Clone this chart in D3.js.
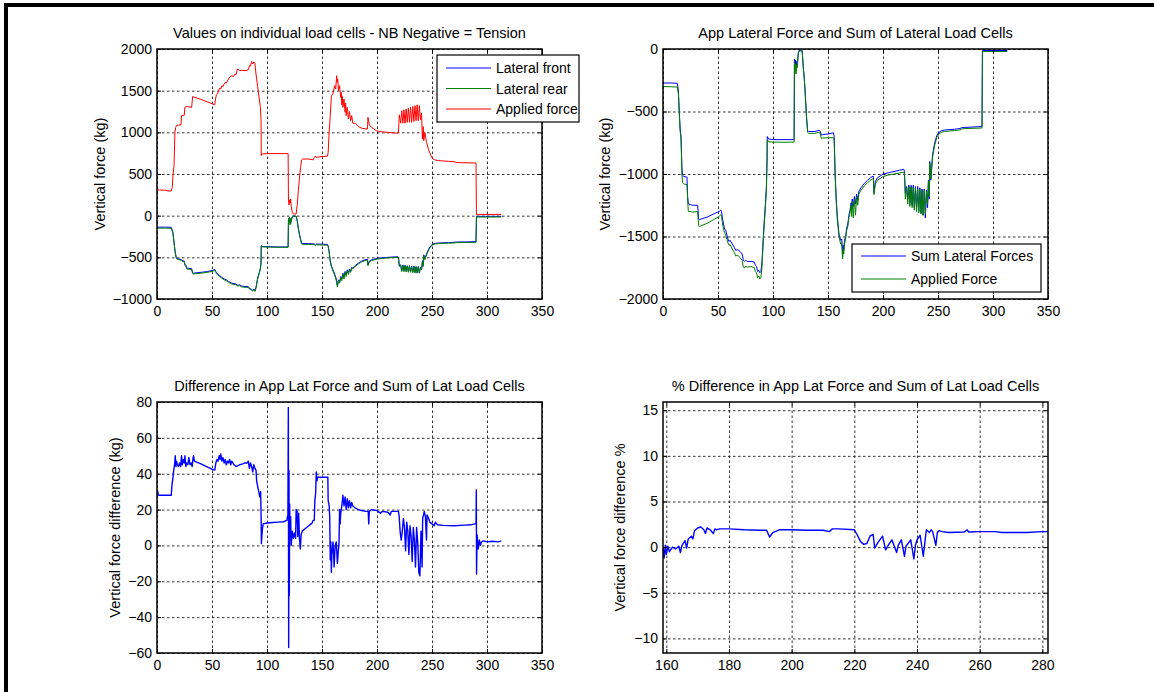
<!DOCTYPE html>
<html>
<head>
<meta charset="utf-8">
<script src="https://cdn.jsdelivr.net/npm/d3@7"></script>
<style>
  body { margin: 0; background: #fff; }
  svg { display: block; font-family: "Liberation Sans", Arial, sans-serif; }
  .grid line { stroke: #000; stroke-dasharray: 2.5,2.5; stroke-width: 0.8; }
  .grid path { display: none; }
  .tick text { font-size: 14px; fill: #000; }
</style>
</head>
<body>
<div id="chart"></div>
<script>
// 荷重セル各値 [時間(s), 力(kg)]
const lateralFront = [[0,-138],[8,-138],[13,-140],[14.5,-200],[15.5,-320],[16.5,-430],[17.5,-500],[18.5,-515],[20,-520],[22,-525],[23,-540],[24.8,-545],[25.3,-580],[26.5,-600],[27,-630],[31.5,-635],[32.4,-685],[33,-690],[40,-680],[46,-670],[51,-655],[52.5,-645],[53.2,-665],[54,-680],[55,-700],[57,-720],[59,-740],[61,-760],[63,-770],[65,-790],[68,-810],[70,-815],[72,-820],[73,-835],[75,-830],[77,-845],[80,-850],[83,-850],[84,-870],[86,-885],[87,-895],[88,-880],[89,-900],[90,-860],[91.5,-750],[93,-680],[94,-630],[94.6,-560],[94.8,-360],[96,-370],[110,-375],[119.2,-375],[119.5,-60],[120,-30],[120.5,-80],[121,-40],[121.5,-100],[122,-50],[123,-15],[124,-5],[126.5,-8],[127.5,-60],[128.5,-150],[129.5,-220],[130.5,-280],[131.5,-330],[132.5,-335],[138,-335],[143,-340],[144,-350],[145,-340],[150,-342],[155,-345],[155.6,-360],[156.5,-430],[157.5,-540],[158.5,-600],[160,-650],[161.5,-700],[163,-760],[164,-840],[165,-770],[166,-800],[167,-730],[168,-760],[169,-690],[170,-740],[171,-670],[172,-710],[173,-650],[174,-690],[175,-640],[176,-670],[177,-620],[178,-630],[180,-600],[183,-570],[186,-545],[190,-525],[191.3,-525],[191.8,-590],[193,-545],[195,-530],[200,-512],[205,-505],[210,-500],[215,-495],[219,-493],[219.5,-500],[220.3,-600],[221.5,-590],[222.5,-660],[223.5,-590],[224.5,-660],[225.5,-595],[226.5,-665],[227.5,-600],[228.5,-670],[229.5,-600],[230.5,-670],[231.5,-605],[232.5,-675],[233.5,-605],[234.5,-680],[235.5,-610],[236.5,-685],[237.5,-610],[238.5,-690],[239.5,-620],[240.5,-640],[241.3,-540],[242,-600],[242.5,-470],[243.5,-520],[245,-460],[247,-400],[249,-360],[251,-340],[253,-332],[256,-328],[265,-323],[270,-320],[272,-316],[280,-315],[290,-312],[290.4,-5],[291,-8],[300,-8],[313,-8]];

const lateralRear = [[0,-150],[8,-150],[13,-152],[14.5,-210],[15.5,-330],[16.5,-445],[17.5,-510],[18.5,-525],[20,-530],[22,-535],[23,-550],[24.8,-555],[25.3,-595],[26.5,-615],[27,-640],[31.5,-645],[32.4,-695],[33,-700],[40,-690],[46,-680],[51,-665],[52.5,-655],[53.2,-675],[54,-690],[55,-710],[57,-730],[59,-750],[61,-770],[63,-780],[65,-800],[68,-820],[70,-825],[72,-830],[73,-845],[75,-840],[77,-855],[80,-860],[83,-860],[84,-880],[86,-895],[87,-905],[88,-890],[89,-910],[90,-870],[91.5,-760],[93,-690],[94,-640],[94.6,-570],[94.8,-368],[96,-375],[110,-380],[119.2,-380],[119.5,-40],[120,-90],[120.5,-20],[121,-110],[121.5,-30],[122,-70],[123,-10],[124,-3],[126.5,-5],[127.5,-70],[128.5,-160],[129.5,-230],[130.5,-290],[131.5,-340],[132.5,-345],[138,-345],[143,-348],[144,-360],[145,-350],[150,-352],[155,-355],[155.6,-370],[156.5,-440],[157.5,-555],[158.5,-610],[160,-665],[161.5,-715],[163,-780],[164,-855],[165,-780],[166,-810],[167,-740],[168,-780],[169,-700],[170,-760],[171,-680],[172,-730],[173,-660],[174,-705],[175,-650],[176,-680],[177,-630],[178,-640],[180,-610],[183,-580],[186,-555],[190,-535],[191.3,-535],[191.8,-600],[193,-555],[195,-540],[200,-522],[205,-512],[210,-507],[215,-502],[219,-500],[219.5,-505],[220.3,-610],[221.5,-595],[222.5,-670],[223.5,-595],[224.5,-672],[225.5,-600],[226.5,-675],[227.5,-605],[228.5,-680],[229.5,-605],[230.5,-680],[231.5,-610],[232.5,-685],[233.5,-610],[234.5,-688],[235.5,-615],[236.5,-690],[237.5,-615],[238.5,-680],[239.5,-625],[240.5,-650],[241.3,-550],[242,-610],[242.5,-480],[243.5,-530],[245,-470],[247,-410],[249,-368],[251,-348],[253,-340],[256,-335],[265,-330],[270,-328],[272,-324],[280,-322],[290,-320],[290.4,-15],[291,-16],[300,-16],[313,-16]];

const appliedForce = [[0,310],[2,308],[8,305],[10,296],[13,296],[14,350],[14.5,480],[15.5,600],[16.3,1000],[17,1060],[18,1085],[21.8,1090],[22.3,1200],[24.8,1205],[25.3,1300],[26.6,1310],[31.5,1300],[32.4,1430],[33,1425],[40,1395],[46,1365],[52.5,1330],[53.2,1400],[54,1450],[55,1460],[56,1500],[57,1530],[58,1520],[59,1560],[60,1550],[61,1580],[62,1600],[63,1590],[65,1640],[66,1660],[68,1680],[69.5,1670],[71,1700],[72,1695],[73,1760],[74,1755],[75,1740],[77,1745],[80,1740],[83,1750],[84,1800],[85,1795],[86,1850],[87,1820],[88,1845],[89,1830],[90,1700],[91.5,1550],[93,1400],[94,1300],[94.6,1150],[94.8,720],[95.2,740],[100,745],[110,745],[119.2,745],[119.5,200],[120,130],[120.5,190],[121,150],[121.5,200],[122,110],[123,40],[124,20],[126.5,20],[127.5,130],[128.5,300],[129.5,450],[130.5,580],[131.5,670],[132.5,680],[138,680],[142,670],[143,700],[144,715],[144.5,700],[150,710],[155,715],[155.6,760],[156.5,1000],[157.5,1200],[158.5,1430],[160,1470],[161.5,1560],[162.5,1520],[163.3,1680],[163.8,1600],[164.3,1640],[165,1500],[166,1560],[167,1420],[167.5,1480],[168,1330],[168.5,1430],[169,1300],[170,1400],[171,1240],[171.5,1350],[172,1200],[173,1300],[174,1160],[175,1250],[176,1140],[177,1200],[178,1110],[180,1110],[183,1070],[186,1050],[190,1040],[191.3,1040],[191.8,1180],[193,1090],[195,1060],[200,1015],[205,1005],[210,1000],[215,993],[219,990],[219.5,1000],[220.3,1210],[221.5,1110],[222.5,1260],[223.5,1110],[224.5,1270],[225.5,1110],[226.5,1280],[227.5,1120],[228.5,1290],[229.5,1120],[230.5,1300],[231.5,1120],[232.5,1310],[233.5,1130],[234.5,1320],[235.5,1140],[236.5,1330],[237.5,1140],[238.5,1320],[239.5,1150],[240.5,1230],[241.3,920],[242,1070],[242.5,900],[243.5,1000],[245,880],[247,790],[249,720],[251,680],[253,668],[256,660],[265,652],[270,648],[272,638],[280,635],[290,632],[290.4,12],[291,15],[300,15],[313,15]];

// 横方向合計と負荷力
const sumLateral = [[0,-272],[8,-272],[13,-275],[14,-330],[14.8,-500],[15.6,-640],[16.4,-700],[17.2,-950],[17.8,-1010],[19,-1020],[21.8,-1025],[22.4,-1180],[23,-1240],[25.3,-1245],[26.6,-1250],[31.5,-1250],[32.4,-1360],[33,-1365],[40,-1345],[46,-1320],[51,-1300],[52.5,-1288],[53.2,-1300],[54,-1350],[55,-1400],[56,-1440],[57,-1450],[59,-1520],[60,-1540],[61,-1530],[63,-1560],[65,-1590],[66,-1610],[68,-1605],[70,-1620],[72,-1640],[73,-1690],[74,-1700],[75,-1690],[77,-1700],[80,-1700],[83,-1705],[84,-1730],[85,-1740],[86,-1780],[87,-1770],[88,-1790],[89,-1780],[90,-1700],[91.5,-1450],[93,-1250],[94,-1100],[94.6,-870],[94.8,-700],[96,-720],[100,-725],[110,-725],[119.2,-725],[119.5,-80],[120,-120],[120.5,-90],[121,-130],[121.5,-100],[122,-140],[123,-30],[124,-8],[126.5,-10],[127.5,-140],[128.5,-240],[129.5,-380],[130.5,-540],[131.5,-655],[132.5,-660],[138,-660],[142,-650],[143,-660],[144,-690],[145,-685],[150,-680],[155,-670],[155.6,-700],[156.5,-1000],[157.5,-1200],[158.5,-1340],[160,-1480],[161.5,-1530],[162.5,-1520],[163.3,-1650],[163.8,-1570],[164.3,-1610],[165,-1530],[166,-1500],[167,-1430],[168,-1400],[169,-1330],[170,-1290],[171,-1230],[171.5,-1280],[172,-1200],[173,-1260],[174,-1180],[175,-1240],[176,-1160],[177,-1210],[178,-1140],[180,-1110],[183,-1075],[186,-1050],[190,-1020],[191.3,-1020],[191.8,-1150],[193,-1060],[195,-1030],[200,-1000],[205,-990],[210,-980],[215,-970],[219,-962],[219.5,-980],[220.3,-1150],[221.5,-1100],[222.5,-1200],[223.5,-1090],[224.5,-1230],[225.5,-1090],[226.5,-1250],[227.5,-1090],[228.5,-1270],[229.5,-1100],[230.5,-1280],[231.5,-1100],[232.5,-1300],[233.5,-1110],[234.5,-1310],[235.5,-1120],[236.5,-1330],[237.5,-1120],[238.5,-1350],[239.5,-1130],[240.5,-1270],[241.3,-1050],[242,-1200],[242.5,-900],[243.5,-1050],[245,-850],[247,-750],[249,-690],[251,-665],[253,-655],[256,-648],[265,-642],[270,-636],[272,-628],[280,-625],[290,-620],[290.4,-10],[291,-12],[300,-12],[313,-12]];

const appliedNeg = [[0,-300],[8,-302],[13,-305],[14,-360],[14.8,-520],[15.6,-660],[16.4,-720],[17.2,-1000],[17.8,-1070],[19,-1080],[21.8,-1085],[22.4,-1200],[23,-1300],[25.3,-1300],[26.6,-1305],[31.5,-1300],[32.4,-1415],[33,-1420],[40,-1395],[46,-1365],[51,-1340],[52.5,-1325],[53.2,-1340],[54,-1390],[55,-1440],[56,-1470],[57,-1490],[59,-1550],[60,-1570],[61,-1565],[63,-1600],[65,-1630],[66,-1655],[68,-1650],[70,-1670],[72,-1690],[73,-1745],[74,-1752],[75,-1740],[77,-1745],[80,-1740],[83,-1750],[84,-1780],[85,-1790],[86,-1830],[87,-1815],[88,-1840],[89,-1830],[90,-1740],[91.5,-1480],[93,-1280],[94,-1130],[94.6,-900],[94.8,-725],[96,-742],[100,-745],[110,-746],[119.2,-745],[119.5,-100],[120,-190],[120.5,-120],[121,-200],[121.5,-130],[122,-150],[123,-35],[124,-15],[126.5,-18],[127.5,-150],[128.5,-250],[129.5,-400],[130.5,-560],[131.5,-668],[132.5,-675],[138,-675],[142,-665],[143,-680],[144,-718],[145,-712],[150,-710],[155,-710],[155.6,-730],[156.5,-1020],[157.5,-1230],[158.5,-1370],[160,-1500],[161.5,-1560],[162.5,-1550],[163.3,-1680],[163.8,-1600],[164.3,-1640],[165,-1560],[166,-1520],[167,-1450],[168,-1420],[169,-1350],[170,-1310],[171,-1250],[171.5,-1340],[172,-1220],[173,-1350],[174,-1200],[175,-1330],[176,-1180],[177,-1250],[178,-1160],[180,-1130],[183,-1095],[186,-1070],[190,-1040],[191.3,-1040],[191.8,-1165],[193,-1080],[195,-1050],[200,-1020],[205,-1008],[210,-1000],[215,-992],[219,-985],[219.5,-1000],[220.3,-1200],[221.5,-1110],[222.5,-1240],[223.5,-1100],[224.5,-1260],[225.5,-1100],[226.5,-1270],[227.5,-1110],[228.5,-1290],[229.5,-1110],[230.5,-1300],[231.5,-1120],[232.5,-1310],[233.5,-1120],[234.5,-1320],[235.5,-1130],[236.5,-1330],[237.5,-1130],[238.5,-1320],[239.5,-1140],[240.5,-1240],[241.3,-1060],[242,-1180],[242.5,-910],[243.5,-1040],[245,-870],[247,-770],[249,-705],[251,-678],[253,-667],[256,-660],[265,-652],[270,-648],[272,-638],[280,-635],[290,-632],[290.4,-20],[291,-20],[300,-20],[313,-20]];

// 差 (kg)
const forceDiff = [[0,29],[0.5,30.5],[1,29],[1.5,28],[6,28],[13,28],[13.5,33],[14.5,38],[15.2,42],[16,45],[16.6,50],[17.2,44],[17.8,47],[18.5,45],[19.5,44],[20.5,46],[21.5,44],[22.3,50],[23,45],[24,48],[24.8,46],[25.4,50],[26.2,44],[27,46],[28,45],[29,49],[30,45],[31,46],[32,44],[32.6,48],[33.2,50],[34,47],[36,46.5],[40,45.5],[45,44],[50,42.5],[52.5,42],[53.5,46],[54.5,48],[55.5,47],[56.5,50],[57.3,48],[58,51],[59,47],[60,49],[61,46],[62,48],[63,45],[64,47],[65,46],[66,48],[67,45],[68,47],[70,45],[72,44],[75,45],[78,45.5],[80,46],[82,46],[83,47],[84,43],[85,46],[86,44],[87,41],[88,45],[89,43],[90,42],[90.6,36],[91.5,33],[92.5,30],[93.5,27],[94.2,30],[94.6,18],[94.9,1],[95.3,5],[95.8,9],[96.5,12],[100,12.5],[105,12.8],[110,13],[115,13.2],[118,14],[119,17],[119.4,77],[119.7,-57],[120,42],[120.3,-28],[120.6,23],[121,5],[121.5,16],[122,0],[123,8],[124,4],[125,7],[126,4],[126.5,20],[127.3,19],[128,5],[128.8,18],[129.5,4],[130.3,-2],[131,6],[132,8],[134,9],[136,10],[138,11],[140,12],[141,12.5],[142,14],[143,14],[143.5,25],[144.2,29],[144.8,41],[145.4,36],[146,38],[150,38],[155.3,38],[155.6,25],[156.5,22],[157,16],[157.5,-8],[158,2],[158.5,-15],[159,-5],[160,2],[160.5,-3],[161,-12],[162,0],[163,2],[164,-10],[165,-2],[165.5,2],[166,20],[166.5,12],[167,18],[168,22],[169,28],[170,22],[171,27],[172,20],[173,26],[174,21],[175,25],[176,21],[177,24],[178,22],[180,21],[183,20],[186,19.5],[190,19],[192,19],[192.5,12],[193,19],[195,20],[200,19.5],[203,18],[205,19],[210,18.5],[212,17],[213,19],[218,19],[219.5,19],[220.2,16],[221,8],[222,3],[223,8],[224,15],[225,10],[226,-3],[227,13],[228,8],[229,-5],[230,11],[231,5],[232,-9],[233,10],[234,3],[235,-12],[236,10],[237,2],[238,-15],[239,-17],[240,8],[241,-12],[241.5,15],[243,19],[244,16],[245,3],[245.5,17],[247,15],[248,13],[250,12],[252,11],[253,13],[255,11.5],[260,11.2],[270,11],[280,11.3],[285,11.5],[289,12],[290,12],[290.3,31],[290.5,-16],[291,6],[292,-2],[293,3],[294,0],[295,2],[297,2.5],[300,2],[305,2.3],[310,2],[313,2.5]];

// 差 (%)
const percentDiff = [[159,0],[159.3,-1.2],[159.7,0.2],[160,-0.8],[160.5,0.1],[161,-0.5],[162,0],[163,-0.2],[164,0.1],[164.5,-0.6],[165,0.2],[166,0.7],[166.5,-0.1],[167,0.9],[168,1.2],[168.5,0.9],[169,1.8],[170,2.1],[171,2.2],[172,1.9],[172.5,1.5],[173,2.1],[174,1.9],[175,1.5],[175.5,2.0],[176,1.9],[177,2.0],[180,2.0],[185,1.9],[190,1.85],[192,1.85],[193,1.1],[194,1.6],[196,1.9],[200,1.9],[205,1.85],[210,1.85],[212,1.7],[213,2.0],[215,2.0],[220,1.9],[221,1.3],[222,0.6],[223,0.3],[224,0.4],[225,1.2],[226,1.4],[226.5,-0.1],[227.5,0.5],[229,1.2],[230,-0.3],[231,0.3],[232,0.8],[233.5,-0.6],[234,0.2],[235,0.8],[236,-1.0],[236.5,0.1],[238,0.8],[239,-1.3],[239.5,0.2],[240,0.8],[241,1.3],[242,-1.0],[242.5,0.5],[243,1.9],[244,1.6],[244.5,1.9],[245,1.7],[246,0.2],[246.5,1.6],[247,1.8],[248,1.7],[250,1.6],[255,1.65],[256,1.9],[256.5,1.65],[260,1.7],[265,1.7],[267,1.6],[270,1.6],[275,1.6],[280,1.7],[281.8,1.7]];

// 目盛
const timeTicks = [0, 50, 100, 150, 200, 250, 300, 350];
const pctTimeTicks = [160, 180, 200, 220, 240, 260, 280];
const cellTicks = [-1000, -500, 0, 500, 1000, 1500, 2000];
const sumTicks = [-2000, -1500, -1000, -500, 0];
const diffTicks = [-60, -40, -20, 0, 20, 40, 60, 80];
const pctTicks = [-10, -5, 0, 5, 10, 15];

const svgWidth = 1154;
const svgHeight = 692;
const svg = d3.select('#chart')
  .append('svg')
  .attr('width', svgWidth)
  .attr('height', svgHeight);

svg.append('rect').attr('width', svgWidth).attr('height', svgHeight).attr('fill', '#fff');
// 外枠
svg.append('rect').attr('x', 4).attr('y', 3).attr('width', svgWidth - 4).attr('height', 4).attr('fill', '#000');
svg.append('rect').attr('x', 4).attr('y', 3).attr('width', 4).attr('height', svgHeight - 3).attr('fill', '#000');

let clipId = 0;

function panel(opt) {
  const width = opt.right - opt.left;
  const height = opt.bottom - opt.top;
  const g = svg.append('g').attr('transform', `translate(${opt.left},${opt.top})`);

  const xScale = d3.scaleLinear().domain(opt.xDomain).range([0, width]);
  const yScale = d3.scaleLinear().domain(opt.yDomain).range([height, 0]);

  // grid
  g.append('g').attr('class', 'grid')
    .attr('transform', `translate(0,${height})`)
    .call(d3.axisBottom(xScale).tickValues(opt.xTicks).tickSize(-height).tickFormat(''));
  g.append('g').attr('class', 'grid')
    .call(d3.axisLeft(yScale).tickValues(opt.yTicks).tickSize(-width).tickFormat(''));

  // lines
  const id = 'clip' + (clipId++);
  g.append('clipPath').attr('id', id)
    .append('rect').attr('width', width).attr('height', height);
  const line = d3.line().x(d => xScale(d[0])).y(d => yScale(d[1]));
  opt.series.forEach(s => {
    g.append('path')
      .datum(s.data)
      .attr('clip-path', `url(#${id})`)
      .attr('fill', 'none')
      .attr('stroke', s.color)
      .attr('stroke-width', s.width || 1)
      .attr('stroke-linejoin', 'round')
      .attr('d', line);
  });

  // axes (ticks inside)
  const ax = g.append('g').attr('transform', `translate(0,${height})`)
    .call(d3.axisBottom(xScale).tickValues(opt.xTicks).tickSize(-4).tickPadding(7).tickFormat(d3.format('d')));
  const ay = g.append('g')
    .call(d3.axisLeft(yScale).tickValues(opt.yTicks).tickSize(-4).tickPadding(5).tickFormat(d3.format('d')));
  const at = g.append('g')
    .call(d3.axisTop(xScale).tickValues(opt.xTicks).tickSize(-4).tickFormat(''));
  const ar = g.append('g').attr('transform', `translate(${width},0)`)
    .call(d3.axisRight(yScale).tickValues(opt.yTicks).tickSize(-4).tickFormat(''));
  [ax, ay, at, ar].forEach(a => {
    a.select('.domain').remove();
    a.selectAll('line').attr('stroke', '#000');
    a.selectAll('text').attr('font-family', null);
  });
  g.append('rect')
    .attr('width', width).attr('height', height)
    .attr('fill', 'none').attr('stroke', '#000').attr('stroke-width', 1.5);

  // title / y label
  g.append('text')
    .attr('x', width / 2).attr('y', -11)
    .attr('text-anchor', 'middle')
    .attr('font-size', 14.5)
    .text(opt.title);
  g.append('text')
    .attr('transform', `translate(${opt.yLabelX},${height / 2}) rotate(-90)`)
    .attr('text-anchor', 'middle')
    .attr('font-size', 14.5)
    .text(opt.yLabel);

  // legend
  if (opt.legend) {
    const L = opt.legend;
    const lg = svg.append('g').attr('transform', `translate(${L.x},${L.y})`);
    lg.append('rect')
      .attr('width', L.w).attr('height', L.h)
      .attr('fill', '#fff').attr('stroke', '#000').attr('stroke-width', 1.2);
    opt.series.forEach((s, i) => {
      const yy = L.first + i * L.step;
      lg.append('line')
        .attr('x1', 9).attr('x2', 54).attr('y1', yy).attr('y2', yy)
        .attr('stroke', s.color).attr('stroke-width', 1);
      lg.append('text')
        .attr('x', 59).attr('y', yy + 5)
        .attr('font-size', 14)
        .text(s.name);
    });
  }
}

panel({
  left: 157, right: 542, top: 49, bottom: 299,
  xDomain: [0, 350], yDomain: [-1000, 2000],
  xTicks: timeTicks, yTicks: cellTicks,
  title: 'Values on individual load cells - NB Negative = Tension',
  yLabel: 'Vertical force (kg)', yLabelX: -52,
  series: [
    { name: 'Lateral front', data: lateralFront, color: '#0000ff' },
    { name: 'Lateral rear', data: lateralRear, color: '#008000' },
    { name: 'Applied force', data: appliedForce, color: '#ff0000' }
  ],
  legend: { x: 437, y: 55, w: 142, h: 67, first: 13, step: 20.5 }
});

panel({
  left: 663, right: 1048, top: 49, bottom: 299,
  xDomain: [0, 350], yDomain: [-2000, 0],
  xTicks: timeTicks, yTicks: sumTicks,
  title: 'App Lateral Force and Sum of Lateral Load Cells',
  yLabel: 'Vertical force (kg)', yLabelX: -53,
  series: [
    { name: 'Sum Lateral Forces', data: sumLateral, color: '#0000ff' },
    { name: 'Applied Force', data: appliedNeg, color: '#008000' }
  ],
  legend: { x: 852, y: 244, w: 189, h: 48, first: 12, step: 23 }
});

panel({
  left: 157, right: 542, top: 402, bottom: 653,
  xDomain: [0, 350], yDomain: [-60, 80],
  xTicks: timeTicks, yTicks: diffTicks,
  title: 'Difference in App Lat Force and Sum of Lat Load Cells',
  yLabel: 'Vertical force difference (kg)', yLabelX: -37,
  series: [{ name: 'diff', data: forceDiff, color: '#0000ff', width: 1.4 }]
});

panel({
  left: 663, right: 1048, top: 402, bottom: 653,
  xDomain: [158.95, 281.8], yDomain: [-11.6, 15.9],
  xTicks: pctTimeTicks, yTicks: pctTicks,
  title: '% Difference in App Lat Force and Sum of Lat Load Cells',
  yLabel: 'Vertical force difference %', yLabelX: -38,
  series: [{ name: 'pct', data: percentDiff, color: '#0000ff', width: 1.4 }]
});
</script>
</body>
</html>
